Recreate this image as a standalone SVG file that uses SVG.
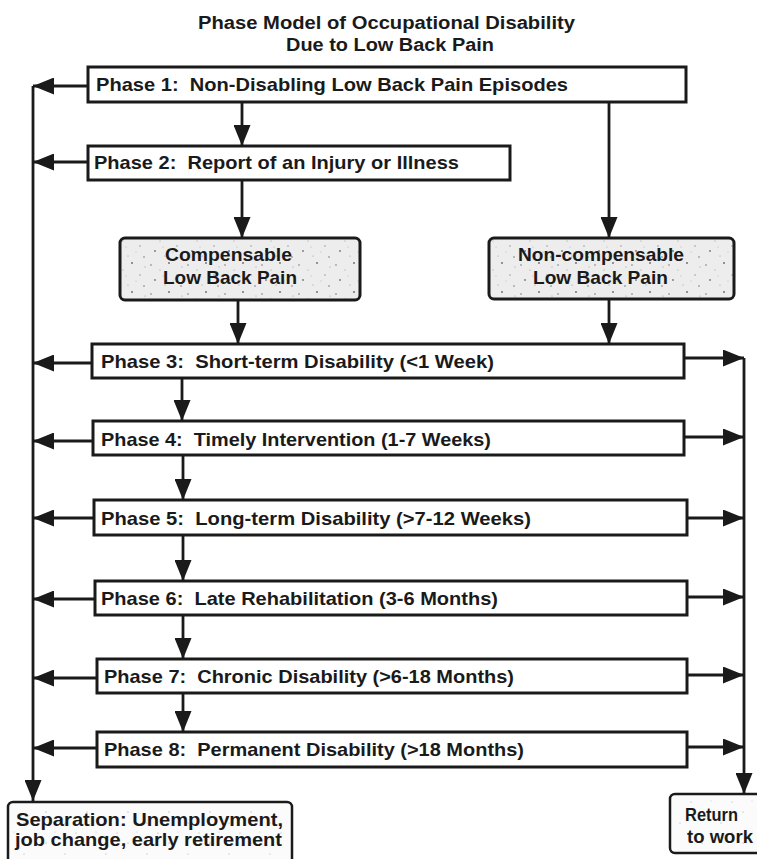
<svg xmlns="http://www.w3.org/2000/svg" width="757" height="859" viewBox="0 0 757 859">
  <style>
    .box { fill: #ffffff; stroke: #1a1a1a; stroke-width: 3; }
    .gbox { fill: url(#stipple); stroke: #1a1a1a; stroke-width: 3; }
    .wbox { fill: url(#speck); stroke: #1a1a1a; stroke-width: 2.5; }
    .t { font-family: "Liberation Sans", Arial, Helvetica, sans-serif; font-weight: bold; font-size: 19px; fill: #1a1a1a; }
    .title { font-family: "Liberation Sans", Arial, Helvetica, sans-serif; font-weight: bold; font-size: 18px; fill: #1a1a1a; }
    .c { fill: none; stroke: #1a1a1a; stroke-width: 2.8; }
  </style>
  <defs>
    <marker id="ah" markerUnits="userSpaceOnUse" viewBox="0 0 21 17" refX="21" refY="8.5" markerWidth="21" markerHeight="17" orient="auto">
      <path d="M0,0 L21,8.5 L0,17 z" fill="#1a1a1a"/>
    </marker>
    <pattern id="stipple" patternUnits="userSpaceOnUse" width="37" height="29">
      <rect width="37" height="29" fill="#ededed"/>
      <circle cx="3" cy="4" r="0.8" fill="#777"/>
      <circle cx="12" cy="9" r="0.6" fill="#999"/>
      <circle cx="21" cy="2" r="0.9" fill="#666"/>
      <circle cx="29" cy="14" r="0.7" fill="#888"/>
      <circle cx="7" cy="19" r="0.9" fill="#777"/>
      <circle cx="17" cy="24" r="0.6" fill="#999"/>
      <circle cx="33" cy="25" r="0.8" fill="#777"/>
      <circle cx="25" cy="20" r="0.5" fill="#aaa"/>
      <circle cx="15" cy="15" r="0.5" fill="#aaa"/>
      <circle cx="34" cy="6" r="0.6" fill="#999"/>
    </pattern>
    <pattern id="speck" patternUnits="userSpaceOnUse" width="41" height="31">
      <rect width="41" height="31" fill="#fbfbfb"/>
      <circle cx="5" cy="6" r="0.6" fill="#999"/>
      <circle cx="24" cy="17" r="0.6" fill="#aaa"/>
      <circle cx="35" cy="27" r="0.5" fill="#999"/>
      <circle cx="14" cy="26" r="0.5" fill="#bbb"/>
    </pattern>
  </defs>

  <g id="title">
    <text class="title" x="198" y="29" textLength="377" lengthAdjust="spacingAndGlyphs">Phase Model of Occupational Disability</text>
    <text class="title" x="286" y="51" textLength="208" lengthAdjust="spacingAndGlyphs">Due to Low Back Pain</text>
  </g>

  <g id="connectors">
    <path class="c" d="M33,86 L33,801" marker-end="url(#ah)"/>
    <path class="c" d="M744,358 L744,794" marker-end="url(#ah)"/>
    <path class="c" d="M88,86 L33,86" marker-end="url(#ah)"/>
    <path class="c" d="M88,162 L33,162" marker-end="url(#ah)"/>
    <path class="c" d="M92,363 L33,363" marker-end="url(#ah)"/>
    <path class="c" d="M93,441 L33,441" marker-end="url(#ah)"/>
    <path class="c" d="M94,518 L33,518" marker-end="url(#ah)"/>
    <path class="c" d="M95,599 L33,599" marker-end="url(#ah)"/>
    <path class="c" d="M97,678 L33,678" marker-end="url(#ah)"/>
    <path class="c" d="M97,748 L33,748" marker-end="url(#ah)"/>
    <path class="c" d="M684,358 L744,358" marker-end="url(#ah)"/>
    <path class="c" d="M684,437 L744,437" marker-end="url(#ah)"/>
    <path class="c" d="M687,518 L744,518" marker-end="url(#ah)"/>
    <path class="c" d="M687,597 L744,597" marker-end="url(#ah)"/>
    <path class="c" d="M687,675 L744,675" marker-end="url(#ah)"/>
    <path class="c" d="M687,747 L744,747" marker-end="url(#ah)"/>
    <path class="c" d="M242,102 L242,146" marker-end="url(#ah)"/>
    <path class="c" d="M242,180 L242,238" marker-end="url(#ah)"/>
    <path class="c" d="M609,102 L609,238" marker-end="url(#ah)"/>
    <path class="c" d="M238,300 L238,344" marker-end="url(#ah)"/>
    <path class="c" d="M609,299 L609,344" marker-end="url(#ah)"/>
    <path class="c" d="M182,378 L182,421" marker-end="url(#ah)"/>
    <path class="c" d="M183,455 L183,500" marker-end="url(#ah)"/>
    <path class="c" d="M183,535 L183,581" marker-end="url(#ah)"/>
    <path class="c" d="M183,615 L183,659" marker-end="url(#ah)"/>
    <path class="c" d="M183,693 L183,732" marker-end="url(#ah)"/>
  </g>

  <g id="phase1">
    <rect class="box" x="88" y="67" width="598" height="35"/>
    <text class="t" x="96" y="91" xml:space="preserve" textLength="472" lengthAdjust="spacingAndGlyphs">Phase 1:  Non-Disabling Low Back Pain Episodes</text>
  </g>
  <g id="phase2">
    <rect class="box" x="88" y="146" width="422" height="34"/>
    <text class="t" x="94" y="169" xml:space="preserve" textLength="365" lengthAdjust="spacingAndGlyphs">Phase 2:  Report of an Injury or Illness</text>
  </g>
  <g id="compensable">
    <rect class="gbox" x="120" y="238" width="240" height="62" rx="5"/>
    <text class="t" x="165" y="261" textLength="127" lengthAdjust="spacingAndGlyphs">Compensable</text>
    <text class="t" x="163" y="284" textLength="134" lengthAdjust="spacingAndGlyphs">Low Back Pain</text>
  </g>
  <g id="noncompensable">
    <rect class="gbox" x="489" y="238" width="245" height="61" rx="5"/>
    <text class="t" x="518" y="261" textLength="166" lengthAdjust="spacingAndGlyphs">Non-compensable</text>
    <text class="t" x="533" y="284" textLength="135" lengthAdjust="spacingAndGlyphs">Low Back Pain</text>
  </g>
  <g id="phase3">
    <rect class="box" x="92" y="344" width="592" height="34"/>
    <text class="t" x="101" y="368" xml:space="preserve" textLength="393" lengthAdjust="spacingAndGlyphs">Phase 3:  Short-term Disability (&lt;1 Week)</text>
  </g>
  <g id="phase4">
    <rect class="box" x="93" y="421" width="591" height="34"/>
    <text class="t" x="101" y="446" xml:space="preserve" textLength="390" lengthAdjust="spacingAndGlyphs">Phase 4:  Timely Intervention (1-7 Weeks)</text>
  </g>
  <g id="phase5">
    <rect class="box" x="94" y="500" width="593" height="35"/>
    <text class="t" x="101" y="525" xml:space="preserve" textLength="430" lengthAdjust="spacingAndGlyphs">Phase 5:  Long-term Disability (&gt;7-12 Weeks)</text>
  </g>
  <g id="phase6">
    <rect class="box" x="95" y="581" width="592" height="34"/>
    <text class="t" x="101" y="605" xml:space="preserve" textLength="397" lengthAdjust="spacingAndGlyphs">Phase 6:  Late Rehabilitation (3-6 Months)</text>
  </g>
  <g id="phase7">
    <rect class="box" x="97" y="659" width="590" height="34"/>
    <text class="t" x="104" y="683" xml:space="preserve" textLength="410" lengthAdjust="spacingAndGlyphs">Phase 7:  Chronic Disability (&gt;6-18 Months)</text>
  </g>
  <g id="phase8">
    <rect class="box" x="97" y="732" width="590" height="35"/>
    <text class="t" x="104" y="756" xml:space="preserve" textLength="420" lengthAdjust="spacingAndGlyphs">Phase 8:  Permanent Disability (&gt;18 Months)</text>
  </g>
  <g id="separation">
    <rect class="wbox" x="8" y="802" width="284" height="64" rx="5"/>
    <text class="t" x="16" y="826" textLength="267" lengthAdjust="spacingAndGlyphs">Separation: Unemployment,</text>
    <text class="t" x="15" y="846" textLength="267" lengthAdjust="spacingAndGlyphs">job change, early retirement</text>
  </g>
  <g id="return">
    <rect class="wbox" x="670" y="794" width="95" height="59" rx="5"/>
    <text class="t" x="685" y="821" textLength="53" lengthAdjust="spacingAndGlyphs">Return</text>
    <text class="t" x="687" y="843" textLength="66" lengthAdjust="spacingAndGlyphs">to work</text>
  </g>
</svg>
